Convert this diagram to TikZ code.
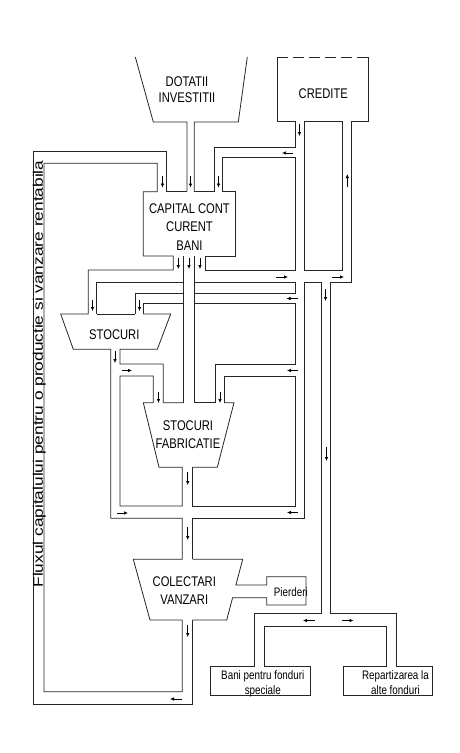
\documentclass[tikz,border=0pt]{standalone}
\usepackage{graphicx}
\usepackage{fontspec}
\setmainfont{Liberation Sans}[FakeStretch=0.8]
\newfontfamily\widefont{Liberation Sans}
\usetikzlibrary{arrows.meta}
\begin{document}
\begin{tikzpicture}[x=1pt,y=-1pt,
  wall/.style={line width=0.8pt, draw=black!85, line join=miter},
  flow/.style={line width=0.7pt, draw=black, -{Latex[length=4pt,width=3.6pt]}},
  big/.style={font=\fontsize{14}{18.4}\selectfont, align=center, inner sep=0pt},
  small/.style={font=\fontsize{12.3}{14.3}\selectfont, align=center, inner sep=0pt}]
\useasboundingbox (0,0) rectangle (460,753);
\fill[white] (0,0) rectangle (460,753);

% DOTATII funnel and its pipe
\draw[wall] (135.3,57) -- (153.3,122) -- (187,122) -- (187,191.7);
\draw[wall] (247.3,57) -- (238.3,122) -- (194.3,122) -- (194.3,191.7);

% CREDITE box
\draw[wall,dash pattern=on 11pt off 5pt] (277,57) -- (368.5,57);
\draw[wall] (277,57) -- (277,121) -- (295,121) -- (295,147.3) -- (214.3,147.3) -- (214.3,191.7);
\draw[wall] (222.7,191.7) -- (222.7,157.3) -- (295,157.3) -- (295,270) -- (205,270) -- (205,256);
\draw[wall] (304,121) rectangle (342.7,270);
\draw[wall] (368.5,57) -- (368.5,121) -- (351.7,121) -- (351.7,282.5) -- (330.5,282.5) -- (330.5,613.3) -- (396.7,613.3) -- (396.7,666.7);
\draw[wall] (254,666.7) -- (254,613.3) -- (321,613.3) -- (321,282.5) -- (304,282.5) -- (304,518.3) -- (192.7,518.3) -- (192.7,559.3);

% crossings of the credit pipe
\draw[wall] (194.3,282.5) -- (295,282.5) -- (295,293.3) -- (194.3,293.3);
\draw[wall] (194.3,303.3) -- (295,303.3) -- (295,364) -- (215,364) -- (215,402.7);
\draw[wall] (224,402.7) -- (224,376) -- (295,376) -- (295,506) -- (192.7,506) -- (192.7,467.3);

% CAPITAL box and the big return loop
\draw[wall] (182.3,620) -- (182.3,691.7) -- (44,691.7) -- (44,163.3) -- (157.3,163.3) -- (157.3,191.7) -- (143.3,191.7) -- (143.3,256) -- (173.3,256) -- (173.3,270) -- (88.3,270) -- (88.3,314) -- (60.7,314) -- (73.3,349.3) -- (110.7,349.3) -- (110.7,518.3) -- (182.3,518.3) -- (182.3,559.3) -- (133.3,559.3) -- (150,620) -- (182.3,620);
\draw[wall] (166.7,191.7) -- (166.7,151.7) -- (33.3,151.7) -- (33.3,704) -- (192.5,704) -- (192.5,620);
\draw[wall] (166.7,191.7) -- (187,191.7);
\draw[wall] (194.3,191.7) -- (214.3,191.7);
\draw[wall] (222.7,191.7) -- (235,191.7) -- (235,256) -- (205,256);

% central pipe
\draw[wall] (183.3,256) -- (183.3,402.7);
\draw[wall] (194.3,256) -- (194.3,402.7);

% inlets of STOCURI
\draw[wall] (96.7,314) -- (96.7,282.5) -- (183.3,282.5);
\draw[wall] (135,314) -- (135,293.3) -- (183.3,293.3);
\draw[wall] (143.3,314) -- (143.3,303.3) -- (183.3,303.3);
\draw[wall] (96.7,314) -- (135,314);
\draw[wall] (143.3,314) -- (170.7,314) -- (157.3,349.3) -- (120,349.3) -- (120,364) -- (163.3,364) -- (163.3,402.7) -- (183.3,402.7);

% STOCURI FABRICATIE
\draw[wall] (153.3,402.7) -- (153.3,376) -- (120,376) -- (120,506) -- (182.3,506) -- (182.3,467.3) -- (159,467.3) -- (143.3,402.7) -- (153.3,402.7);
\draw[wall] (194.3,402.7) -- (215,402.7);
\draw[wall] (224,402.7) -- (234,402.7) -- (217.3,467.3) -- (192.7,467.3);

% COLECTARI VANZARI and Pierderi
\draw[wall] (192.7,559.3) -- (242.7,559.3) -- (235.9,585) -- (266.7,585) -- (266.7,576.7) -- (306,576.7) -- (306,605) -- (266.7,605) -- (266.7,597.7) -- (232.6,597.7) -- (226.7,620) -- (192.5,620);

% boxes at the bottom right
\draw[wall] (254,666.7) -- (210,666.7) -- (210,695) -- (310,695) -- (310,666.7) -- (264,666.7) -- (264,626) -- (386.7,626) -- (386.7,666.7) -- (343.3,666.7) -- (343.3,695) -- (432,695) -- (432,666.7) -- (396.7,666.7);

% texts
\node[big] (dot) at (187,89.8) {DOTATII\\[-1.9pt]INVESTITII};
\node[big] (cred) at (323.3,93.7) {CREDITE};
\node[big] (cap) at (189.5,227) {CAPITAL CONT\\CURENT\\BANI};
\node[big] (stoc) at (114.3,334.7) {STOCURI};
\node[big] (fab) at (188,434.5) {STOCURI\\FABRICATIE};
\node[big] (col) at (184.3,590.6) {COLECTARI\\[-0.6pt]VANZARI};
\node[small] (pier) at (290.8,592.3) {Pierderi};
\node[small] (bani) at (262.8,683.7) {Bani pentru fonduri\\speciale};
\node[small] (rep) at (395.5,682.5) {Repartizarea la\\alte fonduri};
\node[inner sep=0pt, rotate=90] (flux) at (39.3,374) {\scalebox{1}[0.8]{\widefont\fontsize{17.3}{19}\selectfont Fluxul capitalului pentru o productie si vanzare rentabila}};

% flow arrows
\draw[flow] (162.5,176) -- (162.5,187.5);
\draw[flow] (190.5,176) -- (190.5,187.5);
\draw[flow] (218.5,176) -- (218.5,187.5);
\draw[flow] (299.5,124) -- (299.5,136);
\draw[flow] (293,153) -- (282,153);
\draw[flow] (347.3,187) -- (347.3,174);
\draw[flow] (178.3,258) -- (178.3,269);
\draw[flow] (189,258) -- (189,269);
\draw[flow] (200,258) -- (200,269);
\draw[flow] (276,277) -- (288,277);
\draw[flow] (332,277) -- (344,277);
\draw[flow] (325.5,289) -- (325.5,301);
\draw[flow] (298,298.5) -- (286.5,298.5);
\draw[flow] (92.5,300) -- (92.5,311);
\draw[flow] (139.5,300) -- (139.5,311);
\draw[flow] (115,351) -- (115,363);
\draw[flow] (122,370.5) -- (132,370.5);
\draw[flow] (158.5,392) -- (158.5,403);
\draw[flow] (220,392) -- (220,403);
\draw[flow] (298,370.5) -- (287,370.5);
\draw[flow] (187.7,472) -- (187.7,485);
\draw[flow] (117,513) -- (128,513);
\draw[flow] (298,512.5) -- (287,512.5);
\draw[flow] (187.7,527) -- (187.7,540);
\draw[flow] (326.5,447) -- (326.5,461);
\draw[flow] (187.7,625) -- (187.7,637);
\draw[flow] (182,699) -- (170,699);
\draw[flow] (315,620.5) -- (303,620.5);
\draw[flow] (341.5,620.5) -- (353.5,620.5);
\end{tikzpicture}
\end{document}
